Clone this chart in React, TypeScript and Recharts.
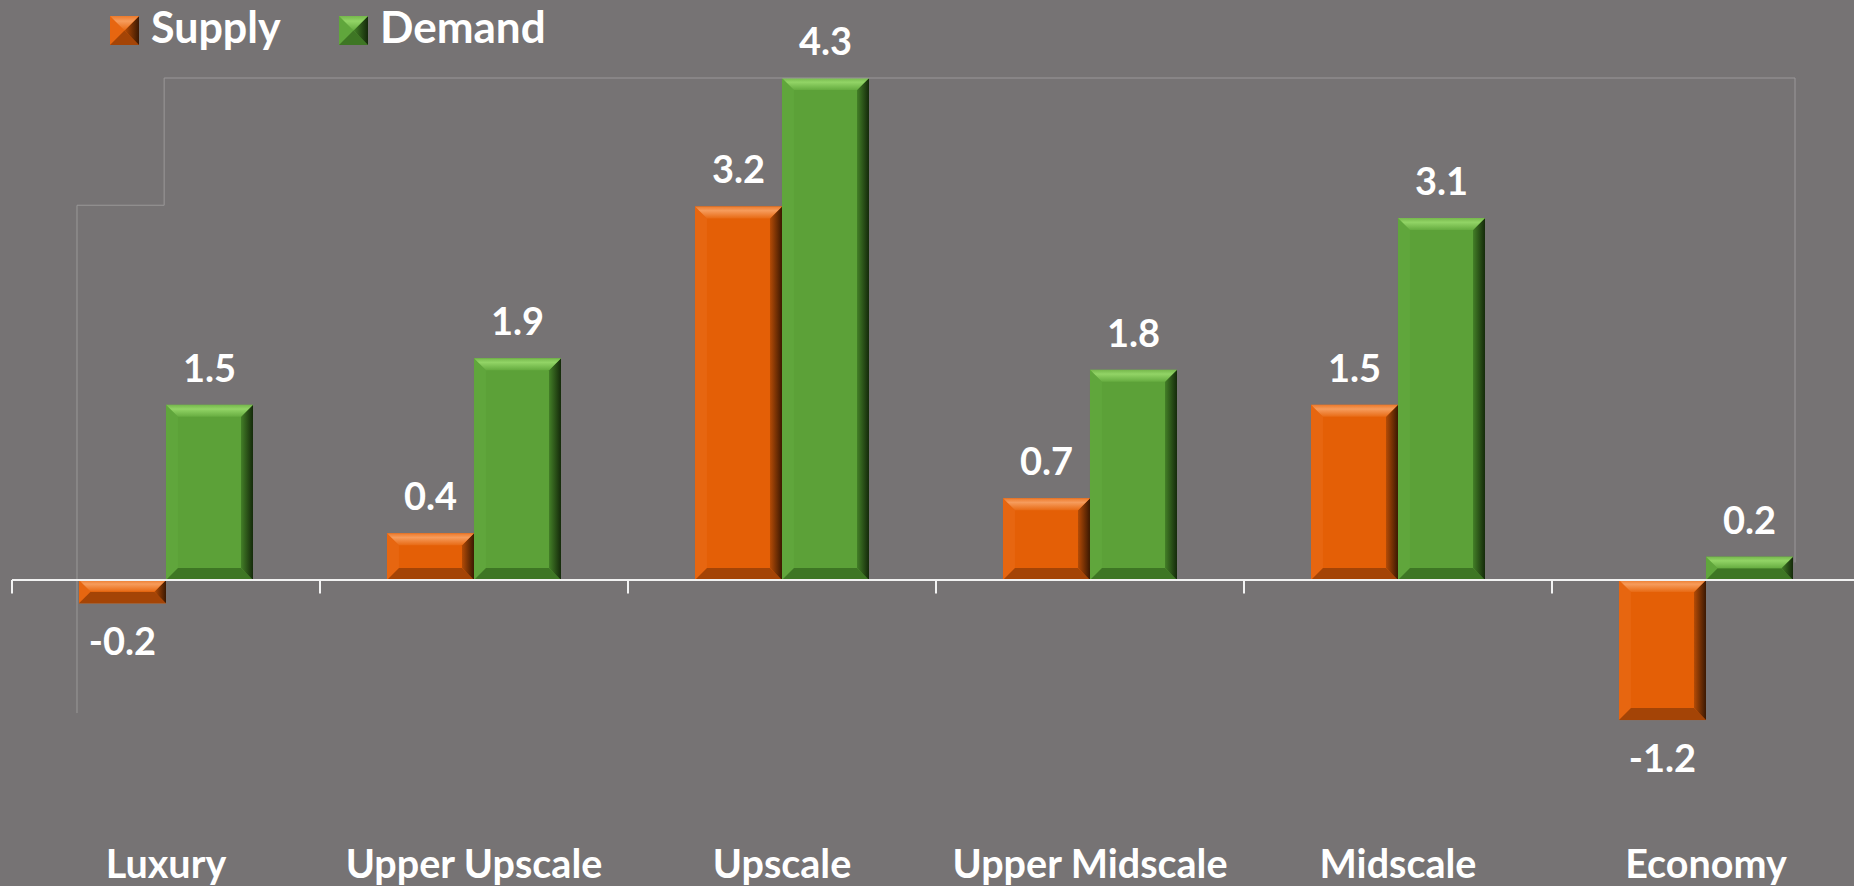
import React from 'react';
import { BarChart, Bar, XAxis, YAxis, ReferenceLine, LabelList, Legend } from 'recharts';

const categories = ['Luxury', 'Upper Upscale', 'Upscale', 'Upper Midscale', 'Midscale', 'Economy'];
const supplyValues = [-0.2, 0.4, 3.2, 0.7, 1.5, -1.2];
const demandValues = [1.5, 1.9, 4.3, 1.8, 3.1, 0.2];
const seriesNames = ['Supply', 'Demand'];
const categoryCenters = [0.5, 1.5, 2.5, 3.5, 4.5, 5.5];
const categoryBoundaries = [0, 1, 2, 3, 4, 5, 6];
const frameSegments: [number, number, number, number][] = [
  [0.211, -1.14, 0.211, 3.21],
  [0.211, 3.21, 0.494, 3.21],
  [0.494, 3.21, 0.494, 4.3],
  [0.494, 4.3, 5.789, 4.3],
  [5.789, 4.3, 5.789, 0.15],
];

const data = categories.map((c, i) => ({ name: c, pos: categoryCenters[i], Supply: supplyValues[i], Demand: demandValues[i] }));

const BG = '#767374';
const FONT = 'Lato, "Open Sans", sans-serif';

const palette: Record<string, any> = {
  Supply: { base: '#E45F06', left: '#E76610', bottom: '#A44406', topA: '#EC7A2C', topB: '#F69C5C', topC: '#E86A14', rightA: '#B44B06', rightB: '#3A1802' },
  Demand: { base: '#5CA138', left: '#60A63C', bottom: '#3E7624', topA: '#76B84C', topB: '#92D466', topC: '#66AC40', rightA: '#437F27', rightB: '#14290A' },
};

const Gradients = ({ prefix }: { prefix: string }) => (
  <defs>
    {seriesNames.map((s) => (
      <React.Fragment key={s}>
        <linearGradient id={`${prefix}top-${s}`} x1="0" y1="0" x2="0" y2="1">
          <stop offset="0%" stopColor={palette[s].topA} />
          <stop offset="35%" stopColor={palette[s].topB} />
          <stop offset="100%" stopColor={palette[s].topC} />
        </linearGradient>
        <linearGradient id={`${prefix}right-${s}`} x1="0" y1="0" x2="1" y2="0">
          <stop offset="0%" stopColor={palette[s].rightA} />
          <stop offset="100%" stopColor={palette[s].rightB} />
        </linearGradient>
      </React.Fragment>
    ))}
  </defs>
);

const BevelRect = ({ x, y, w, h, s, bevel, prefix }: any) => {
  const p = palette[s];
  const b = Math.max(0, Math.min(bevel, h / 2, w / 2));
  const pts = (arr: number[][]) => arr.map((q) => q.join(',')).join(' ');
  return (
    <g>
      <rect x={x} y={y} width={w} height={h} fill={p.base} />
      <polygon points={pts([[x, y], [x + b, y + b], [x + b, y + h - b], [x, y + h]])} fill={p.left} />
      <polygon points={pts([[x, y + h], [x + b, y + h - b], [x + w - b, y + h - b], [x + w, y + h]])} fill={p.bottom} />
      <polygon points={pts([[x + w, y], [x + w, y + h], [x + w - b, y + h - b], [x + w - b, y + b]])} fill={`url(#${prefix}right-${s})`} />
      <polygon points={pts([[x, y], [x + w, y], [x + w - b, y + b], [x + b, y + b]])} fill={`url(#${prefix}top-${s})`} />
    </g>
  );
};

const makeShape = (s: string) => (props: any) => {
  let { x, y, width, height } = props;
  if (height < 0) {
    y = y + height;
    height = -height;
  }
  return <BevelRect x={x} y={y} w={width} h={height} s={s} bevel={12} prefix="g-" />;
};

const renderLabel = (props: any) => {
  const vb = props.viewBox && props.viewBox.width !== undefined ? props.viewBox : props;
  const { x, y, width, height } = vb;
  const value = Number(props.value);
  const top = Math.min(y, y + height);
  const bottom = Math.max(y, y + height);
  const cx = x + width / 2;
  const ty = value >= 0 ? top - 23 : bottom + 52;
  return (
    <text x={cx} y={ty} textAnchor="middle" fill="#fff" fontFamily={FONT} fontWeight={700} fontSize={38}>
      {value.toFixed(1)}
    </text>
  );
};

const CatTick = (props: any) => {
  const { x, y, payload } = props;
  return (
    <text x={x} y={y + 41} textAnchor="middle" fill="#fff" fontFamily={FONT} fontWeight={700} fontSize={39.5}>
      {payload.value}
    </text>
  );
};

const LegendContent = () => (
  <svg width={600} height={60} style={{ display: 'block' }}>
    <Gradients prefix="l-" />
    <BevelRect x={110} y={16} w={29} h={29} s="Supply" bevel={14.5} prefix="l-" />
    <text x={151} y={43} fill="#fff" fontFamily={FONT} fontWeight={700} fontSize={43}>{seriesNames[0]}</text>
    <BevelRect x={339} y={16} w={29} h={29} s="Demand" bevel={14.5} prefix="l-" />
    <text x={380} y={43} fill="#fff" fontFamily={FONT} fontWeight={700} fontSize={44}>{seriesNames[1]}</text>
  </svg>
);

export default function App() {
  return (
    <div style={{ position: 'absolute', left: 0, top: 0, width: 1854, height: 886, background: BG, overflow: 'hidden' }}>
      <BarChart
        width={1870}
        height={886}
        data={data}
        margin={{ top: 78, right: 10, left: 12, bottom: 0 }}
        barCategoryGap="21.75%"
        barGap={0}
      >
        <Gradients prefix="g-" />
        <XAxis
          dataKey="name"
          height={49.2}
          axisLine={false}
          tickLine={false}
          tickSize={0}
          tickMargin={0}
          interval={0}
          tick={<CatTick />}
        />
        <XAxis xAxisId="n" dataKey="pos" type="number" domain={[0, 6]} hide allowDataOverflow />
        <YAxis hide domain={[-2.2, 4.3]} allowDataOverflow />
        <Legend
          layout="horizontal"
          verticalAlign="middle"
          align="center"
          wrapperStyle={{ top: 0, left: 0, width: 600, height: 60 }}
          content={() => <LegendContent />}
        />
        {frameSegments.map((f, i) => (
          <ReferenceLine
            key={`f${i}`}
            xAxisId="n"
            segment={[{ x: f[0], y: f[1] }, { x: f[2], y: f[3] }]}
            stroke="#9a9899"
            strokeWidth={1}
            ifOverflow="visible"
          />
        ))}
        <Bar dataKey="Supply" isAnimationActive={false} shape={makeShape('Supply')}>
          <LabelList dataKey="Supply" content={renderLabel} />
        </Bar>
        <Bar dataKey="Demand" isAnimationActive={false} shape={makeShape('Demand')}>
          <LabelList dataKey="Demand" content={renderLabel} />
        </Bar>
        <ReferenceLine y={0} stroke="#F2F2F2" strokeWidth={2} ifOverflow="visible" />
        {categoryBoundaries.map((b) => (
          <ReferenceLine
            key={`t${b}`}
            xAxisId="n"
            segment={[{ x: b, y: 0 }, { x: b, y: -0.115 }]}
            stroke="#F2F2F2"
            strokeWidth={2}
            ifOverflow="visible"
          />
        ))}
      </BarChart>
    </div>
  );
}
